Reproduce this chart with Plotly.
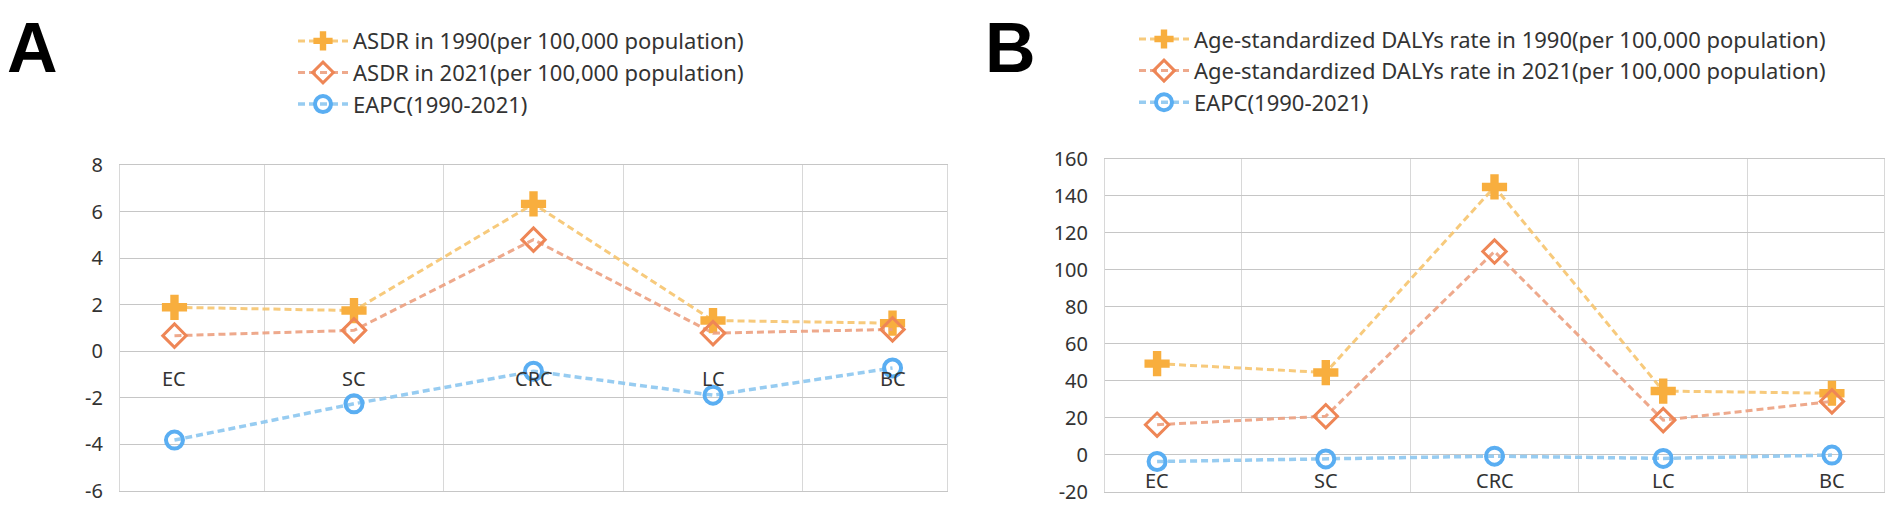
import plotly.graph_objects as go

categories = ["EC", "SC", "CRC", "LC", "BC"]

# Panel A: ASDR
asdr_1990 = [1.89, 1.75, 6.34, 1.32, 1.21]
asdr_2021 = [0.67, 0.90, 4.80, 0.78, 0.94]
eapc_a = [-3.82, -2.26, -0.86, -1.89, -0.72]
ticks_a = [-6, -4, -2, 0, 2, 4, 6, 8]

# Panel B: DALYs
daly_1990 = [49.2, 44.4, 144.7, 34.4, 33.2]
daly_2021 = [16.2, 20.8, 109.8, 18.7, 28.8]
eapc_b = [-3.7, -2.3, -0.8, -2.0, -0.2]
ticks_b = [-20, 0, 20, 40, 60, 80, 100, 120, 140, 160]

names_a = ["ASDR in 1990(per 100,000 population)",
           "ASDR in 2021(per 100,000 population)",
           "EAPC(1990-2021)"]
names_b = ["Age-standardized DALYs rate in 1990(per 100,000 population)",
           "Age-standardized DALYs rate in 2021(per 100,000 population)",
           "EAPC(1990-2021)"]

W, H = 1902, 528
FONT = "Noto Sans, Open Sans, DejaVu Sans, sans-serif"
TXT = "#333333"
HGRID = "#c6c6c6"
VGRID = "#d8d8d8"
DASH = "7px,4px"

styles = [
    dict(line=dict(color="rgba(246,196,110,0.9)", width=3, dash=DASH),
         marker=dict(symbol="cross", size=21, color="#F8AE3E",
                     line=dict(width=0))),
    dict(line=dict(color="rgba(236,160,128,0.9)", width=3, dash=DASH),
         marker=dict(symbol="diamond-open", size=18, color="#EE8656",
                     line=dict(width=3, color="#EE8656"))),
    dict(line=dict(color="rgba(140,198,240,0.9)", width=3.5, dash=DASH),
         marker=dict(symbol="circle-open", size=17, color="#5AAEF2",
                     line=dict(width=4, color="#5AAEF2"))),
]

fig = go.Figure()
for i, (vals, nm) in enumerate(zip([asdr_1990, asdr_2021, eapc_a], names_a)):
    fig.add_trace(go.Scatter(x=categories, y=vals, name=nm, mode="lines+markers",
                             xaxis="x", yaxis="y", legend="legend", **styles[i]))
for i, (vals, nm) in enumerate(zip([daly_1990, daly_2021, eapc_b], names_b)):
    fig.add_trace(go.Scatter(x=categories, y=vals, name=nm, mode="lines+markers",
                             xaxis="x2", yaxis="y2", legend="legend2", **styles[i]))

def xax(domain, anchor):
    return dict(domain=domain, anchor=anchor, type="category", tickson="boundaries",
                showgrid=True, gridcolor=VGRID, gridwidth=1, showticklabels=False,
                ticks="", showline=True, mirror=True, linecolor=HGRID, linewidth=1.3,
                zeroline=False, categoryorder="array", categoryarray=categories)

def yax(domain, anchor, rng, tv):
    return dict(domain=domain, anchor=anchor, range=rng, tickvals=tv,
                ticktext=[str(v) for v in tv],
                showgrid=True, gridcolor=HGRID, gridwidth=1.3, zeroline=False,
                showline=True, mirror=True, linecolor=VGRID, linewidth=1,
                ticks="", ticklabelstandoff=12,
                tickfont=dict(size=20, color=TXT, family=FONT))

legend_common = dict(font=dict(size=22, color=TXT, family=FONT), itemwidth=50,
                      bgcolor="rgba(0,0,0,0)", xanchor="left", yanchor="top",
                      tracegroupgap=0, itemclick=False)

annotations = []
for c in categories:
    annotations.append(dict(x=c, y=0, xref="x", yref="y", text=c, showarrow=False,
                            yanchor="top", yshift=-12,
                            font=dict(size=20, color=TXT, family=FONT)))
    annotations.append(dict(x=c, y=0, xref="x2", yref="y2", text=c, showarrow=False,
                            yanchor="top", yshift=-10,
                            font=dict(size=20, color=TXT, family=FONT)))
for letter, xp in [("A", 24 / W), ("B", 1002 / W)]:
    annotations.append(dict(x=xp, y=1 - 27 / H, xref="paper", yref="paper",
                            text="<b>%s</b>" % letter, showarrow=False,
                            xanchor="center", yanchor="middle",
                            font=dict(size=70, color="#000000",
                                      family="Liberation Sans, Arial, sans-serif")))

fig.update_layout(
    width=W, height=H, margin=dict(l=0, r=0, t=0, b=0),
    paper_bgcolor="#ffffff", plot_bgcolor="#ffffff",
    font=dict(family=FONT, color=TXT),
    xaxis=xax([112 / W, 939 / W], "y"),
    yaxis=yax([1 - 494 / H, 1 - 151 / H], "x", [-6, 8], ticks_a),
    xaxis2=xax([1097 / W, 1876 / W], "y2"),
    yaxis2=yax([1 - 495 / H, 1 - 144 / H], "x2", [-20, 160], ticks_b),
    legend=dict(x=285 / W, y=1 + 2 / H, **legend_common),
    legend2=dict(x=1126 / W, y=1 + 4 / H, **legend_common),
    annotations=annotations,
    showlegend=True,
)

fig.write_html("out.html")
